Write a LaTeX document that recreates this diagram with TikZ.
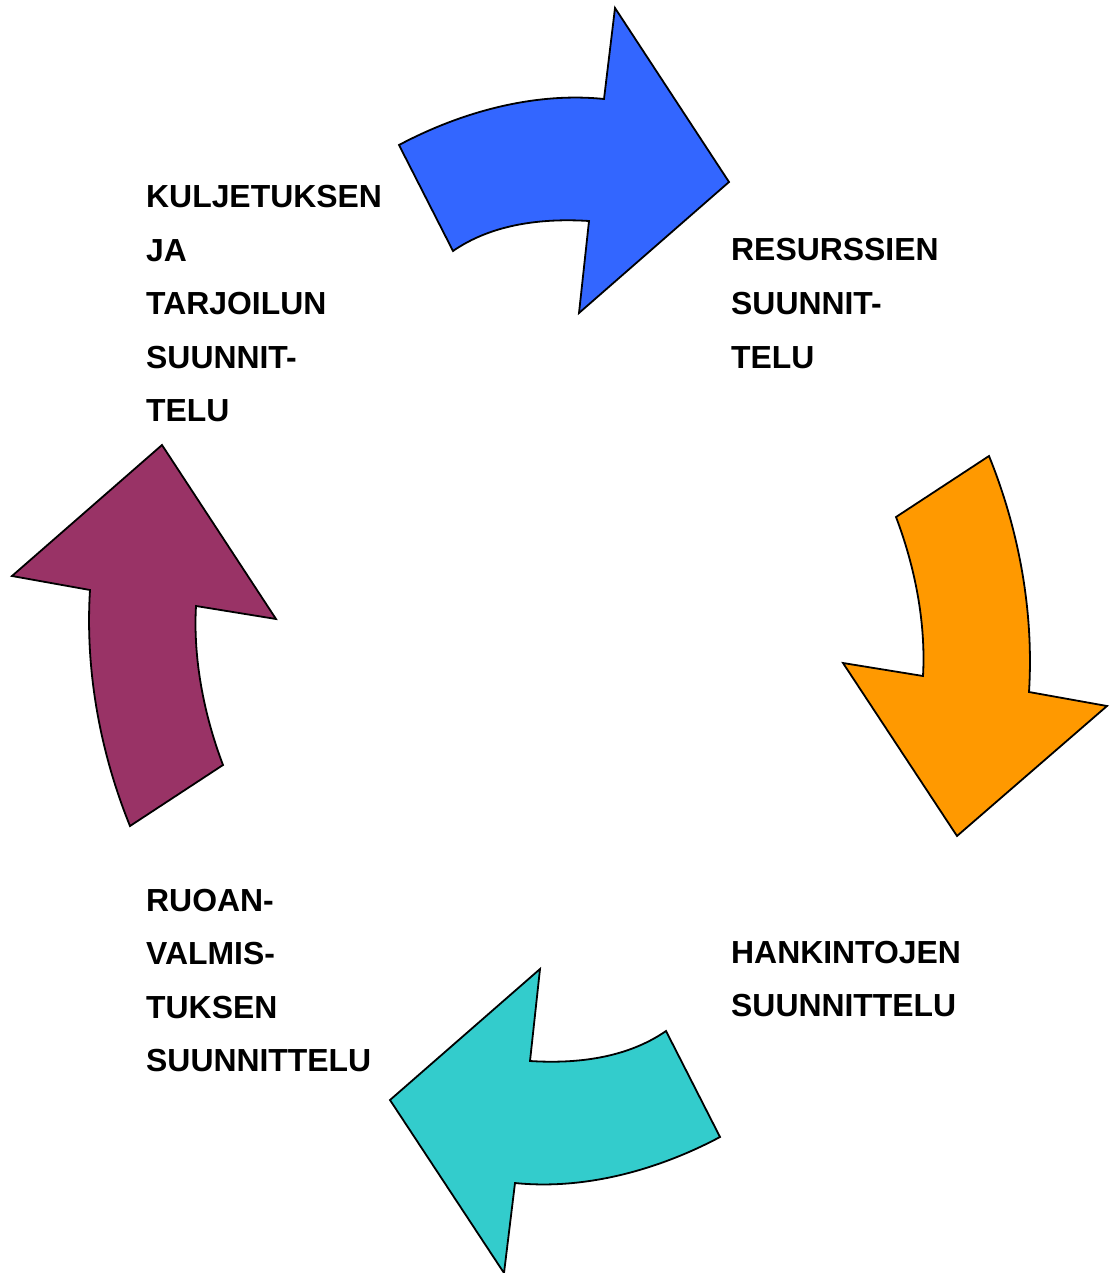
\documentclass[tikz,border=0pt]{standalone}
\usepackage{fontspec}
\setmainfont{Liberation Sans}
\begin{document}
\begin{tikzpicture}[x=1pt,y=-1pt,
  cyclearrow/.style={draw=black,line width=1.8pt,line join=miter},
  steplabel/.style={anchor=base west,inner sep=0pt,
    font=\fontsize{31.9}{53.5}\selectfont\bfseries}]
\definecolor{arrowblue}{HTML}{3366FF}
\definecolor{arroworange}{HTML}{FF9900}
\definecolor{arrowteal}{HTML}{33CCCC}
\definecolor{arrowplum}{HTML}{993366}
\useasboundingbox[fill=white] (0,0) rectangle (1110,1273);

% top arrow, pointing right
\path[cyclearrow,fill=arrowblue]
  (399,145) .. controls (463,111) and (536,92) .. (604,99)
  -- (615,8) -- (729,182) -- (579,313) -- (589,221)
  .. controls (542,218) and (492,224) .. (453,251) -- cycle;

% right arrow, pointing down
\path[cyclearrow,fill=arroworange]
  (989,456) .. controls (1019,530) and (1034,612) .. (1029,692)
  -- (1107,706) -- (957,836) -- (843,663) -- (923,676)
  .. controls (926,623) and (915,567) .. (896,517) -- cycle;

% bottom arrow, pointing left
\path[cyclearrow,fill=arrowteal]
  (720,1137) .. controls (656,1171) and (583,1190) .. (515,1183)
  -- (504,1273) -- (390,1100) -- (540,969) -- (530,1061)
  .. controls (577,1064) and (627,1058) .. (666,1031) -- cycle;

% left arrow, pointing up
\path[cyclearrow,fill=arrowplum]
  (130,826) .. controls (100,752) and (85,670) .. (90,590)
  -- (12,576) -- (162,445) -- (276,619) -- (196,606)
  .. controls (193,659) and (204,715) .. (223,765) -- cycle;

% stage labels
\node[steplabel] (transport) at (146,208)
  {\begin{tabular}[t]{@{}l@{}}KULJETUKSEN\\JA\\TARJOILUN\\SUUNNIT-\\TELU\end{tabular}};
\node[steplabel] (resources) at (731,261)
  {\begin{tabular}[t]{@{}l@{}}RESURSSIEN\\SUUNNIT-\\TELU\end{tabular}};
\node[steplabel] (purchasing) at (731,963)
  {\begin{tabular}[t]{@{}l@{}}HANKINTOJEN\\SUUNNITTELU\end{tabular}};
\node[steplabel] (cooking) at (146,911)
  {\begin{tabular}[t]{@{}l@{}}RUOAN-\\VALMIS-\\TUKSEN\\SUUNNITTELU\end{tabular}};
\end{tikzpicture}
\end{document}
